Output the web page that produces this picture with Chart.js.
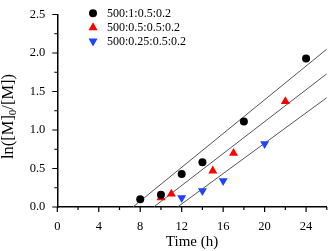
<!DOCTYPE html>
<html><head><meta charset="utf-8">
<script src="https://cdn.jsdelivr.net/npm/chart.js@4/dist/chart.umd.min.js"></script>
<style>html,body{margin:0;padding:0;background:#fff}#wrap{width:332px;height:251px}</style>
</head><body><div id="wrap"><canvas id="c" width="332" height="251"></canvas></div>
<script>
// series labels
const seriesLabels = ['500:1:0.5:0.2', '500:0.5:0.5:0.2', '500:0.25:0.5:0.2'];
// measured points
const timeA = [8, 10, 12, 14, 18, 24];
const valA  = [0.10, 0.16, 0.43, 0.58, 1.11, 1.93];
const timeB = [10, 11, 15, 17, 22];
const valB  = [0.12, 0.17, 0.47, 0.70, 1.37];
const timeC = [12, 14, 16, 20];
const valC  = [0.12, 0.21, 0.34, 0.82];
// fitted lines (end points)
const fitAx = [7.3, 26];  const fitAy = [0, 2.05];
const fitBx = [9.3, 26];  const fitBy = [0, 1.73];
const fitCx = [11.6, 26]; const fitCy = [0, 1.42];
// ticks
const xMajor = [0, 4, 8, 12, 16, 20, 24];
const xMinor = [2, 6, 10, 14, 18, 22, 26];
const yMajor = [0, 0.5, 1.0, 1.5, 2.0, 2.5];
const yMinor = [0.25, 0.75, 1.25, 1.75, 2.25];

const colA = '#000000', colB = '#ff0000', colC = '#1f45fc';
const pts = (xs, ys) => xs.map((v, i) => ({x: v, y: ys[i]}));

const fitStyle = {type: 'line', showLine: true, borderColor: '#555555', borderWidth: 1, pointRadius: 0, fill: false, order: 2};

const decor = {
  id: 'decor',
  afterDraw(chart) {
    const {ctx, chartArea: a, scales: {x, y}} = chart;
    ctx.save();
    ctx.strokeStyle = '#000'; ctx.lineWidth = 1.2;
    ctx.beginPath();
    xMajor.forEach(v => { const p = x.getPixelForValue(v); ctx.moveTo(p, a.bottom); ctx.lineTo(p, a.bottom + 5); });
    xMinor.forEach(v => { const p = x.getPixelForValue(v); ctx.moveTo(p, a.bottom); ctx.lineTo(p, a.bottom + 3); });
    yMajor.forEach(v => { const p = y.getPixelForValue(v); ctx.moveTo(a.left, p); ctx.lineTo(a.left - 5, p); });
    yMinor.forEach(v => { const p = y.getPixelForValue(v); ctx.moveTo(a.left, p); ctx.lineTo(a.left - 3, p); });
    ctx.stroke();

    // legend
    const cols = [colA, colB, colC];
    const shapes = ['circle', 'up', 'down'];
    const lx = 93, ly = [13.3, 27.3, 41.5];
    ctx.font = '12px "Liberation Serif"';
    ctx.textBaseline = 'middle'; ctx.textAlign = 'left';
    seriesLabels.forEach((t, i) => {
      ctx.fillStyle = cols[i];
      ctx.beginPath();
      const cy = ly[i];
      if (shapes[i] === 'circle') { ctx.arc(lx, cy, 4, 0, Math.PI * 2); }
      else if (shapes[i] === 'up') { ctx.moveTo(lx, cy - 5); ctx.lineTo(lx + 4.5, cy + 3); ctx.lineTo(lx - 4.5, cy + 3); ctx.closePath(); }
      else { ctx.moveTo(lx, cy + 5); ctx.lineTo(lx + 4.5, cy - 3); ctx.lineTo(lx - 4.5, cy - 3); ctx.closePath(); }
      ctx.fill();
      ctx.fillStyle = '#000';
      ctx.fillText(t, 107, cy + 0.5);
    });

    // x title
    ctx.font = '15px "Liberation Serif"';
    ctx.textAlign = 'center'; ctx.textBaseline = 'middle';
    ctx.fillText('Time (h)', (a.left + a.right) / 2, 242);

    // y title with subscript
    ctx.save();
    ctx.translate(9, 116.5);
    ctx.rotate(-Math.PI / 2);
    const p1 = 'ln([M]', sub = '0', p2 = '/[M])';
    const big = '16.5px "Liberation Serif"', small = '11px "Liberation Serif"';
    ctx.font = big;
    const w1 = ctx.measureText(p1).width, w3 = ctx.measureText(p2).width;
    ctx.font = small;
    const w2 = ctx.measureText(sub).width;
    let sx = -(w1 + w2 + w3) / 2;
    ctx.textAlign = 'left'; ctx.textBaseline = 'middle';
    ctx.font = big;
    ctx.fillText(p1, sx, 0); sx += w1;
    ctx.font = small;
    ctx.fillText(sub, sx, 4); sx += w2;
    ctx.font = big;
    ctx.fillText(p2, sx, 0);
    ctx.restore();
    ctx.restore();
  }
};

new Chart(document.getElementById('c'), {
  type: 'scatter',
  data: {
    datasets: [
      Object.assign({label: 'fitA', data: pts(fitAx, fitAy)}, fitStyle),
      Object.assign({label: 'fitB', data: pts(fitBx, fitBy)}, fitStyle),
      Object.assign({label: 'fitC', data: pts(fitCx, fitCy)}, fitStyle),
      {label: seriesLabels[0], data: pts(timeA, valA), pointStyle: 'circle', pointRadius: 4, backgroundColor: colA, borderColor: colA, borderWidth: 0, order: 1},
      {label: seriesLabels[1], data: pts(timeB, valB), pointStyle: 'triangle', pointRadius: 5.2, backgroundColor: colB, borderColor: colB, borderWidth: 0, order: 1},
      {label: seriesLabels[2], data: pts(timeC, valC), pointStyle: 'triangle', rotation: 180, pointRadius: 5.2, backgroundColor: colC, borderColor: colC, borderWidth: 0, order: 1}
    ]
  },
  options: {
    responsive: false, animation: false, devicePixelRatio: 1,
    layout: {padding: {left: 0, right: 4.5, top: 5.5, bottom: 0}},
    plugins: {legend: {display: false}, tooltip: {enabled: false}},
    scales: {
      x: {
        type: 'linear', min: 0, max: 26,
        afterBuildTicks: s => { s.ticks = xMajor.map(v => ({value: v})); },
        afterFit: s => { s.height = 44; },
        grid: {display: true, drawOnChartArea: false, tickLength: 5, tickColor: 'rgba(0,0,0,0)'},
        border: {display: true, color: '#000', width: 1.5},
        ticks: {color: '#000', font: {family: 'Liberation Serif', size: 12.5}, padding: 7, maxRotation: 0}
      },
      y: {
        type: 'linear', min: 0, max: 2.5,
        afterBuildTicks: s => { s.ticks = yMajor.map(v => ({value: v})); },
        afterFit: s => { s.width = 57.3; },
        grid: {display: true, drawOnChartArea: false, tickLength: 5, tickColor: 'rgba(0,0,0,0)'},
        border: {display: true, color: '#000', width: 1.5},
        ticks: {color: '#000', font: {family: 'Liberation Serif', size: 12.5}, padding: 7, callback: v => v.toFixed(1)}
      }
    }
  },
  plugins: [decor]
});
</script>
</body></html>
